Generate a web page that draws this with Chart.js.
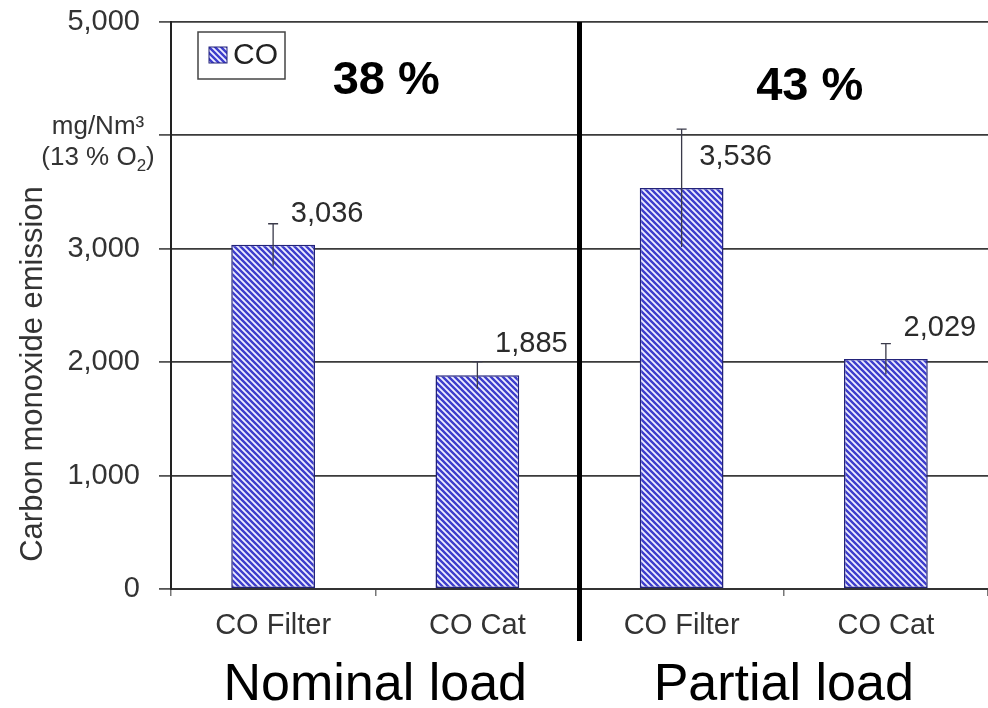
<!DOCTYPE html>
<html>
<head>
<meta charset="utf-8">
<title>Carbon monoxide emission</title>
<script src="https://cdn.jsdelivr.net/npm/chart.js@4.4.1/dist/chart.umd.min.js"></script>
<style>
  html, body { margin: 0; padding: 0; background: #ffffff; }
  #wrap { width: 988px; height: 708px; }
</style>
</head>
<body>
<div id="wrap"><canvas id="chart" width="988" height="708"></canvas></div>
<script>
// Emission values per configuration (mg/Nm³ at 13 % O2)
const categories = ['CO Filter', 'CO Cat', 'CO Filter', 'CO Cat'];
const seriesName = 'CO';
const coValues = [3036, 1885, 3536, 2029];
const coErrors = [185, 120, 520, 135];
const loadGroups = ['Nominal load', 'Partial load'];
const reductionLabels = ['38 %', '43 %'];
const yTickValues = [0, 1000, 2000, 3000, 4000, 5000];
const unitLines = ['mg/Nm³', '(13 % O', '2', ')'];
const yTitle = 'Carbon monoxide emission';

const FONT = '"Liberation Sans", Arial, Helvetica, sans-serif';
const canvas = document.getElementById('chart');
const ctx = canvas.getContext('2d');

function makeHatch(context) {
  const t = document.createElement('canvas');
  t.width = 6; t.height = 6;
  const g = t.getContext('2d');
  g.fillStyle = '#eeeeff';
  g.fillRect(0, 0, 6, 6);
  g.strokeStyle = '#3d3dcc';
  g.lineWidth = 2.4;
  g.beginPath();
  for (const k of [-6, 0, 6]) {
    g.moveTo(-1, -1 + k);
    g.lineTo(7, 7 + k);
  }
  g.stroke();
  return context.createPattern(t, 'repeat');
}
const hatch = makeHatch(ctx);

const annotations = {
  id: 'annotations',
  afterDatasetsDraw(chart) {
    const c = chart.ctx;
    const x = chart.scales.x;
    const y = chart.scales.y;
    const meta = chart.getDatasetMeta(0);
    const area = chart.chartArea;
    c.save();

    // error bars
    c.strokeStyle = '#3a3a4a';
    c.lineWidth = 1.3;
    meta.data.forEach((bar, i) => {
      const top = y.getPixelForValue(coValues[i] + coErrors[i]);
      const bot = y.getPixelForValue(coValues[i] - coErrors[i]);
      c.beginPath();
      c.moveTo(bar.x, top); c.lineTo(bar.x, bot);
      c.moveTo(bar.x - 5, top); c.lineTo(bar.x + 5, top);
      c.stroke();
    });

    // value labels
    c.fillStyle = '#2b2b2b';
    c.font = '29px ' + FONT;
    c.textAlign = 'center';
    c.textBaseline = 'middle';
    meta.data.forEach((bar, i) => {
      c.fillText(coValues[i].toLocaleString('en-US'), bar.x + 54, y.getPixelForValue(coValues[i]) - 31);
    });

    // divider between the two load cases
    const split = (x.getPixelForValue(1) + x.getPixelForValue(2)) / 2;
    c.fillStyle = '#000000';
    c.fillRect(split - 2.5, area.top, 5, 641 - area.top);

    // load case names and reductions
    const nudges = [{ dx: 11, base: 94 }, { dx: 26, base: 100 }];
    loadGroups.forEach((name, gi) => {
      const cx = (x.getPixelForValue(gi * 2) + x.getPixelForValue(gi * 2 + 1)) / 2;
      c.fillStyle = '#000000';
      c.textAlign = 'center';
      c.textBaseline = 'alphabetic';
      c.font = '52px ' + FONT;
      c.fillText(name, cx, 700);
      c.font = 'bold 47px ' + FONT;
      c.fillText(reductionLabels[gi], cx + nudges[gi].dx, nudges[gi].base);
    });

    // legend
    c.fillStyle = '#ffffff';
    c.fillRect(198, 32, 87, 47);
    c.strokeStyle = '#444444';
    c.lineWidth = 1.5;
    c.strokeRect(198, 32, 87, 47);
    c.fillStyle = hatch;
    c.fillRect(209, 47, 18, 16);
    c.strokeStyle = '#23237a';
    c.lineWidth = 1;
    c.strokeRect(209, 47, 18, 16);
    c.fillStyle = '#222222';
    c.font = '30px ' + FONT;
    c.textAlign = 'left';
    c.textBaseline = 'middle';
    c.fillText(seriesName, 233, 56);

    // unit text beside the 4,000 gridline
    c.fillStyle = '#333333';
    c.font = '26px ' + FONT;
    c.textAlign = 'center';
    c.textBaseline = 'alphabetic';
    c.fillText(unitLines[0], 98, 134);
    const p1 = unitLines[1], sub = unitLines[2], p3 = unitLines[3];
    const w1 = c.measureText(p1).width;
    c.font = '17px ' + FONT;
    const w2 = c.measureText(sub).width;
    c.font = '26px ' + FONT;
    const w3 = c.measureText(p3).width;
    let sx = 98 - (w1 + w2 + w3) / 2;
    c.textAlign = 'left';
    c.fillText(p1, sx, 165);
    sx += w1;
    c.font = '17px ' + FONT;
    c.fillText(sub, sx, 171);
    sx += w2;
    c.font = '26px ' + FONT;
    c.fillText(p3, sx, 165);

    // axis title
    c.translate(33, 374);
    c.rotate(-Math.PI / 2);
    c.font = '31px ' + FONT;
    c.textAlign = 'center';
    c.textBaseline = 'middle';
    c.fillStyle = '#333333';
    c.fillText(yTitle, 0, 0);
    c.restore();
  }
};

new Chart(ctx, {
  type: 'bar',
  data: {
    labels: categories,
    datasets: [{
      label: seriesName,
      data: coValues,
      backgroundColor: hatch,
      borderColor: '#23237a',
      borderWidth: 1.5,
      borderSkipped: false,
      barPercentage: 0.41,
      categoryPercentage: 1
    }]
  },
  options: {
    responsive: false,
    animation: false,
    devicePixelRatio: 1,
    layout: { padding: { top: 22, right: 0, left: 0, bottom: 0 } },
    plugins: {
      legend: { display: false },
      tooltip: { enabled: false }
    },
    scales: {
      x: {
        afterFit(s) { s.height = 119; s.paddingLeft = 0; s.paddingRight = 0; },
        grid: { display: true, drawOnChartArea: false, drawTicks: true, tickLength: 7, color: '#777777', lineWidth: 1.5 },
        border: { display: true, color: '#333333', width: 2 },
        ticks: { color: '#333333', font: { family: FONT, size: 29 }, padding: 13 }
      },
      y: {
        min: 0,
        max: 5000,
        afterFit(s) { s.width = 171; s.paddingTop = 0; s.paddingBottom = 0; },
        afterBuildTicks(s) { s.ticks = yTickValues.map(v => ({ value: v })); },
        grid: { color: '#3a3a3a', lineWidth: 1.8, tickLength: 12, tickColor: '#555555' },
        border: { display: true, color: '#222222', width: 2 },
        ticks: {
          color: '#333333',
          font: { family: FONT, size: 29 },
          padding: 19,
          callback: v => (v === 4000 ? '' : v.toLocaleString('en-US'))
        }
      }
    }
  },
  plugins: [annotations]
});
</script>
</body>
</html>
